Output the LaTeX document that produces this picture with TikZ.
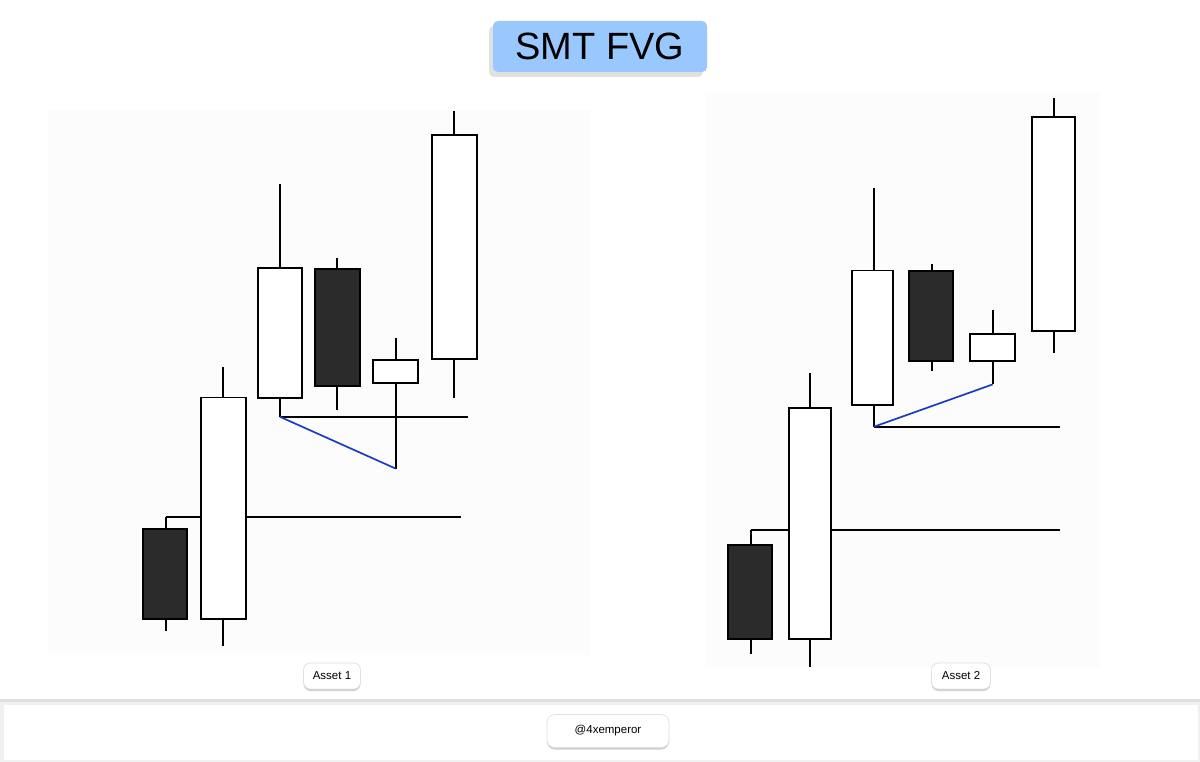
\documentclass[tikz,border=0pt]{standalone}
\usepackage{fontspec}
\setmainfont{Liberation Sans}
\usetikzlibrary{shadows}
\definecolor{titleblue}{HTML}{99C8FF}
\definecolor{darkbody}{HTML}{2B2B2B}
\definecolor{smtblue}{HTML}{1A3CC0}
\tikzset{
  wick/.style={draw=black, line width=1.7pt},
  bull/.style={draw=black, line width=1.9pt, fill=white},
  bear/.style={draw=black, line width=1.9pt, fill=darkbody},
  level/.style={draw=black, line width=1.7pt},
  smt/.style={draw=smtblue, line width=1.7pt},
  pill/.style={draw=black!12, fill=white, rounded corners=7pt, line width=0.7pt,
    drop shadow={shadow xshift=0pt, shadow yshift=-2pt, fill=black!30, opacity=0.6},
    inner sep=0pt, font=\fontsize{11.5}{12}\selectfont},
}
\begin{document}
\begin{tikzpicture}[x=1pt, y=-1pt]
\useasboundingbox (0,0) rectangle (1200,762);
\fill[white] (0,0) rectangle (1200,762);
% faint panel backgrounds
\fill[black!1] (48,110) rectangle (590,655);
\fill[black!1] (705,92) rectangle (1100,668);

% title
\fill[black!12, rounded corners=5pt] (489,26) rectangle (703,77);
\node[fill=titleblue, rounded corners=5pt, minimum width=214pt, minimum height=51pt, inner sep=0pt,
  font=\fontsize{38}{40}\selectfont] (title) at (600,46.5) {SMT FVG};

% ===== Asset 1 =====
% candle A (bearish)
\draw[wick] (165.7,517) -- (165.7,631.4);
\draw[bear] (143.3,528.6) rectangle (187.3,618.6);
% candle B (bullish)
\draw[wick] (222.7,367) -- (222.7,646.4);
\draw[bull] (201.3,397.5) rectangle (245.7,618.6);
\draw[level] (165.7,517) -- (201.3,517);
\draw[level] (245.7,517) -- (461,517);
% candle C
\draw[wick] (280,184.3) -- (280,416.8);
\draw[bull] (258,267.9) rectangle (302.3,398.2);
\coordinate (l1low) at (280,416.8);
\draw[level] (l1low) -- (467.7,416.8);
% candle D (bearish)
\draw[wick] (337.3,257.9) -- (337.3,410);
\draw[bear] (315,268.6) rectangle (360,385.7);
% candle E
\coordinate (l1e) at (395.7,468.6);
\draw[wick] (395.7,338.2) -- (l1e);
\draw[bull] (372.7,360.4) rectangle (417.7,383.2);
% candle F
\draw[wick] (454.3,111.4) -- (454.3,398.2);
\draw[bull] (431.7,135.4) rectangle (476.7,359.3);
\draw[smt] (l1low) -- (l1e);

% ===== Asset 2 =====
% candle A
\draw[wick] (750.7,530) -- (750.7,653.9);
\draw[bear] (728,544.9) rectangle (771.7,638.9);
% candle B
\draw[wick] (809.7,373) -- (809.7,667);
\draw[bull] (788.7,408) rectangle (830.7,638.9);
\draw[level] (750.7,530) -- (788.7,530);
\draw[level] (830.7,530) -- (1060,530);
% candle C
\draw[wick] (873.7,187.7) -- (873.7,426.8);
\draw[bull] (852,270.5) rectangle (892.7,405);
\coordinate (l2low) at (873.7,426.8);
\draw[level] (l2low) -- (1060,426.8);
% candle D
\draw[wick] (931.7,263.7) -- (931.7,370.8);
\draw[bear] (909.3,270.8) rectangle (952.7,361);
% candle E
\coordinate (l2e) at (992.7,384.4);
\draw[wick] (992.7,310) -- (l2e);
\draw[bull] (970.3,333.6) rectangle (1014.7,361);
% candle F
\draw[wick] (1054,98.3) -- (1054,353.2);
\draw[bull] (1032.3,117.4) rectangle (1075,331.4);
\draw[smt] (l2low) -- (l2e);

% labels
\node[pill, minimum width=57pt, minimum height=26pt] (asset1) at (332,676) {Asset 1};
\node[pill, minimum width=59pt, minimum height=26pt] (asset2) at (961,676) {Asset 2};

% footer
\fill[black!12] (0,699) rectangle (1200,704);
\fill[black!6] (0,702) rectangle (1200,762);
\fill[white] (4,705) rectangle (1198,760);
\node[pill, rounded corners=8pt, minimum width=122pt, minimum height=33pt] (handle) at (608,731) {@4xemperor};
\end{tikzpicture}
\end{document}
